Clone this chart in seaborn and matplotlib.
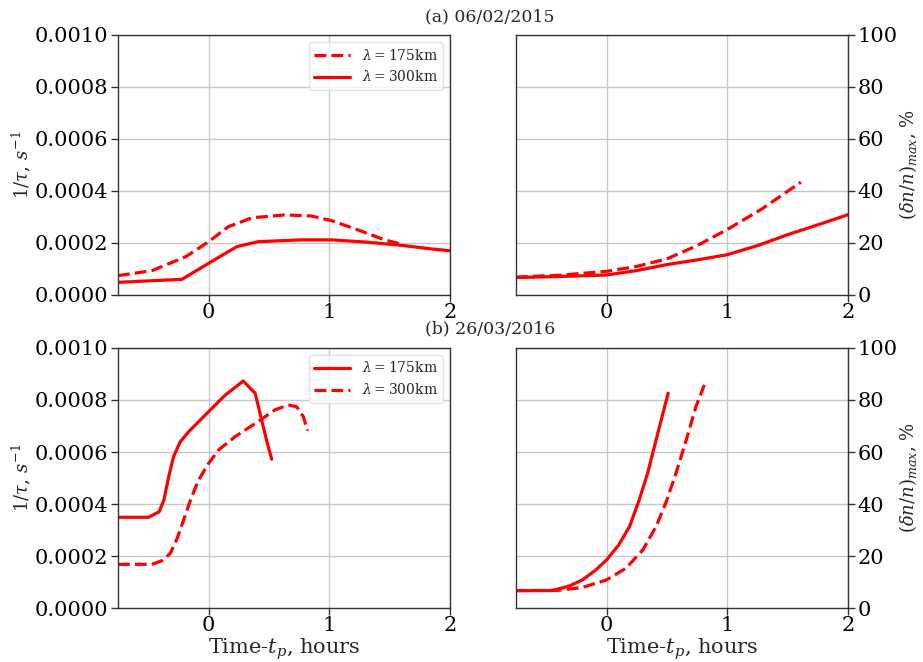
import numpy as np
import pandas as pd
import matplotlib
matplotlib.use("Agg")
import matplotlib.pyplot as plt
import seaborn as sns

# ---- data ----
# (a) 06/02/2015 : 1/tau
a_tau_175_t = [-0.75, -0.47, -0.19, 0.0, 0.165, 0.36, 0.63, 0.85, 1.02, 1.24, 1.46, 1.6]
a_tau_175_v = [0.0000744, 0.0000936, 0.000147, 0.000205, 0.000263, 0.000297, 0.000308, 0.000304, 0.000286, 0.00025, 0.000212, 0.000195]
a_tau_300_t = [-0.75, -0.22, 0.0, 0.234, 0.41, 0.77, 1.02, 1.32, 1.6, 1.85, 2.0]
a_tau_300_v = [0.0000487, 0.0000603, 0.000122, 0.000186, 0.000205, 0.000212, 0.000212, 0.000203, 0.000191, 0.000177, 0.00017]
# (a) 06/02/2015 : (dn/n)max
a_dn_175_t = [-0.75, -0.39, 0.0, 0.25, 0.5, 0.75, 1.0, 1.28, 1.61]
a_dn_175_v = [6.9, 7.6, 9.1, 11.0, 13.9, 19.0, 25.2, 32.9, 43.4]
a_dn_300_t = [-0.75, -0.4, 0.0, 0.25, 0.5, 0.75, 1.0, 1.25, 1.5, 1.75, 2.0]
a_dn_300_v = [6.7, 7.1, 7.7, 9.4, 11.7, 13.5, 15.5, 19.0, 23.2, 27.0, 30.9]
# (b) 26/03/2016 : 1/tau
b_tau_175_t = [-0.75, -0.496, -0.41, -0.37, -0.33, -0.29, -0.234, -0.165, 0.0, 0.138, 0.287, 0.386, 0.44, 0.48, 0.523]
b_tau_175_v = [0.000349, 0.000349, 0.00037, 0.000415, 0.000505, 0.000582, 0.00064, 0.000678, 0.000755, 0.000819, 0.000873, 0.000826, 0.000723, 0.000646, 0.000572]
b_tau_300_t = [-0.75, -0.47, -0.386, -0.317, -0.26, -0.207, -0.15, -0.083, 0.0, 0.083, 0.22, 0.41, 0.55, 0.66, 0.73, 0.785, 0.82]
b_tau_300_v = [0.000168, 0.000168, 0.000182, 0.00021, 0.000268, 0.000338, 0.000415, 0.000492, 0.000556, 0.000608, 0.000659, 0.000717, 0.000762, 0.000781, 0.000774, 0.000736, 0.000682]
# (b) 26/03/2016 : (dn/n)max
b_dn_175_t = [-0.75, -0.45, -0.31, -0.2, -0.09, 0.0, 0.1, 0.19, 0.27, 0.34, 0.41, 0.46, 0.51]
b_dn_175_v = [6.67, 6.7, 8.46, 10.8, 14.6, 18.5, 24.2, 31.3, 41.5, 51.8, 64.6, 73.6, 82.6]
b_dn_300_t = [-0.75, -0.4, -0.2, 0.0, 0.16, 0.3, 0.41, 0.49, 0.575, 0.66, 0.74, 0.81]
b_dn_300_v = [6.7, 6.8, 7.9, 10.8, 15.3, 22.3, 31.3, 40.3, 51.8, 64.6, 77.4, 85.8]

titles = ["(a) 06/02/2015", "(b) 26/03/2016"]
xticks = [0, 1, 2]
tau_ticks = [0.0, 0.0002, 0.0004, 0.0006, 0.0008, 0.0010]
dn_ticks = [0, 20, 40, 60, 80, 100]

sns.set_theme(style="ticks")
plt.rcParams.update({
    "font.family": ["DejaVu Serif"],
    "mathtext.fontset": "dejavuserif",
    "axes.edgecolor": "#333333",
    "axes.linewidth": 1.0,
    "grid.color": "#c8c8c8",
    "grid.linewidth": 1.0,
    "xtick.color": "#333333",
    "ytick.color": "#333333",
    "xtick.labelcolor": "black",
    "ytick.labelcolor": "black",
})

fig = plt.figure(figsize=(9.23, 6.62), dpi=100)
L1, R1 = 118 / 923, 450 / 923
L2, R2 = 516 / 923, 848 / 923
rows = [(1 - 295 / 662, 1 - 35 / 662), (1 - 608 / 662, 1 - 348 / 662)]

def mk(x, y):
    return pd.DataFrame({"t": x, "v": y})

panels = [
    ([(a_tau_175_t, a_tau_175_v, "--", r"$\lambda = 175$km"),
      (a_tau_300_t, a_tau_300_v, "-", r"$\lambda = 300$km")],
     [(a_dn_175_t, a_dn_175_v, "--"), (a_dn_300_t, a_dn_300_v, "-")]),
    ([(b_tau_175_t, b_tau_175_v, "-", r"$\lambda = 175$km"),
      (b_tau_300_t, b_tau_300_v, "--", r"$\lambda = 300$km")],
     [(b_dn_175_t, b_dn_175_v, "-"), (b_dn_300_t, b_dn_300_v, "--")]),
]

LW = 2.3
for r, ((b, t), (taus, dns)) in enumerate(zip(rows, panels)):
    axl = fig.add_axes([L1, b, R1 - L1, t - b])
    axr = fig.add_axes([L2, b, R2 - L2, t - b])
    for xs, ys, ls, lab in taus:
        sns.lineplot(data=mk(xs, ys), x="t", y="v", ax=axl, color="red",
                     linestyle=ls, linewidth=LW, label=lab, sort=False)
    for xs, ys, ls in dns:
        sns.lineplot(data=mk(xs, ys), x="t", y="v", ax=axr, color="red",
                     linestyle=ls, linewidth=LW, sort=False)
    for ax in (axl, axr):
        ax.set_xlim(-0.75, 2)
        ax.set_xticks(xticks)
        ax.grid(True)
        ax.tick_params(labelsize=15, length=5, width=1, pad=2)
        ax.tick_params(axis="x", pad=1)
        ax.set_xlabel("")
        ax.set_ylabel("")
        for s in ax.spines.values():
            s.set_visible(True)
    axl.set_ylim(0, 0.001)
    axl.set_yticks(tau_ticks)
    axl.set_yticklabels([f"{v:.4f}" for v in tau_ticks])
    axl.set_ylabel(r"$1/\tau,\,s^{-1}$", fontsize=13)
    axl.yaxis.set_label_coords(-0.255, 0.5)
    axr.set_ylim(0, 100)
    axr.set_yticks(dn_ticks)
    axr.yaxis.tick_right()
    axr.yaxis.set_label_position("right")
    axr.set_ylabel(r"$(\delta n/n)_{max}$, %", fontsize=13, rotation=90)
    axr.yaxis.set_label_coords(1.148, 0.5)
    leg = axl.legend(loc="upper right", fontsize=10, handlelength=2.6,
                     frameon=True, fancybox=True)
    leg.get_frame().set_edgecolor("#dddddd")
    if r == 1:
        for ax in (axl, axr):
            ax.set_xlabel(r"Time-$t_p$, hours", fontsize=15)
            ax.xaxis.set_label_coords(0.5, -0.108)

fig.text(490 / 923, 1 - 17 / 662, titles[0], ha="center", va="center",
         fontsize=12.5, family="DejaVu Serif")
fig.text(490 / 923, 1 - 329 / 662, titles[1], ha="center", va="center",
         fontsize=12.5, family="DejaVu Serif")

fig.savefig("out.png", dpi=100)
